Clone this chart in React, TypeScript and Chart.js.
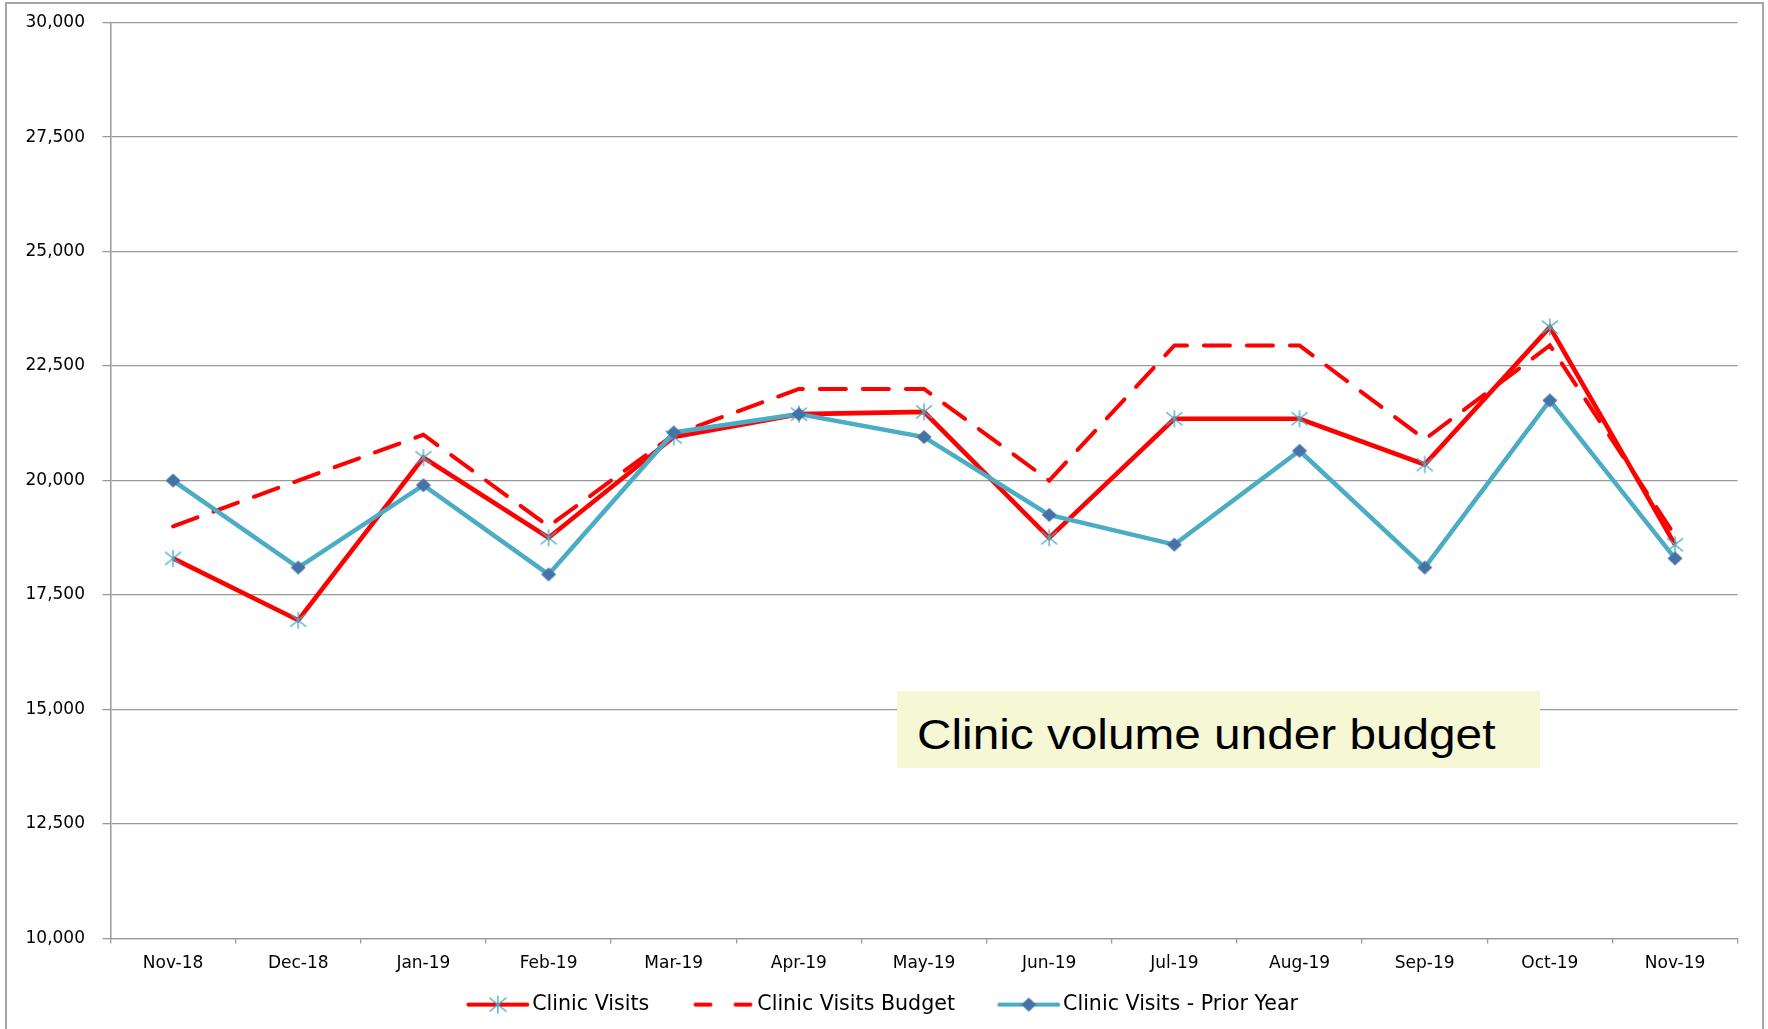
import React, { useEffect, useRef } from "react";
import { Chart, registerables } from "chart.js";

Chart.register(...registerables);

const categories = [
  "Nov-18", "Dec-18", "Jan-19", "Feb-19", "Mar-19", "Apr-19", "May-19",
  "Jun-19", "Jul-19", "Aug-19", "Sep-19", "Oct-19", "Nov-19",
];
const clinicVisits = [18300, 16950, 20500, 18750, 20950, 21450, 21500, 18750, 21350, 21350, 20350, 23350, 18600];
const clinicVisitsBudget = [19000, 20000, 21000, 19000, 21000, 22000, 22000, 20000, 22950, 22950, 20900, 22950, 18800];
const clinicVisitsPriorYear = [20000, 18100, 19900, 17950, 21050, 21450, 20950, 19250, 18600, 20650, 18100, 21750, 18300];
const seriesNames = ["Clinic Visits", "Clinic Visits Budget", "Clinic Visits - Prior Year"];
const yMin = 10000;
const yMax = 30000;
const yStep = 2500;
const annotationText = "Clinic volume under budget";

const RED = "#FF0000";
const TEAL = "#4BACC6";
const DIAMOND = "#4673A7";
const GRID = "#999999";

function drawAsterisk(ctx: CanvasRenderingContext2D, cx: number, cy: number) {
  ctx.save();
  ctx.strokeStyle = TEAL;
  ctx.lineWidth = 1.4;
  ctx.beginPath();
  ctx.moveTo(cx - 8, cy - 6.5);
  ctx.lineTo(cx + 8, cy + 6.5);
  ctx.moveTo(cx - 8, cy + 6.5);
  ctx.lineTo(cx + 8, cy - 6.5);
  ctx.moveTo(cx, cy - 8.5);
  ctx.lineTo(cx, cy + 8.5);
  ctx.stroke();
  ctx.restore();
}

function drawDiamond(ctx: CanvasRenderingContext2D, cx: number, cy: number) {
  ctx.save();
  ctx.fillStyle = DIAMOND;
  ctx.beginPath();
  ctx.moveTo(cx, cy - 7);
  ctx.lineTo(cx + 7.5, cy);
  ctx.lineTo(cx, cy + 7);
  ctx.lineTo(cx - 7.5, cy);
  ctx.closePath();
  ctx.fill();
  ctx.restore();
}

function makeMarker(kind: "asterisk" | "diamond"): HTMLCanvasElement {
  const c = document.createElement("canvas");
  c.width = 20;
  c.height = 20;
  const ctx = c.getContext("2d")!;
  if (kind === "asterisk") drawAsterisk(ctx, 10, 10);
  else drawDiamond(ctx, 10, 10);
  return c;
}

function makeLegendIcon(kind: number): HTMLCanvasElement {
  const c = document.createElement("canvas");
  c.width = 72;
  c.height = 22;
  const ctx = c.getContext("2d")!;
  const x0 = 9.4;
  const x1 = 68.4;
  const y = 11;
  const mid = (x0 + x1) / 2;
  ctx.lineWidth = 4;
  if (kind === 0) {
    ctx.strokeStyle = RED;
    ctx.lineCap = "round";
    ctx.beginPath();
    ctx.moveTo(x0, y);
    ctx.lineTo(x1, y);
    ctx.stroke();
    drawAsterisk(ctx, mid, y);
  } else if (kind === 1) {
    ctx.strokeStyle = RED;
    ctx.lineCap = "round";
    ctx.beginPath();
    ctx.moveTo(x0 + 2, y);
    ctx.lineTo(x0 + 17, y);
    ctx.moveTo(x1 - 17, y);
    ctx.lineTo(x1 - 2, y);
    ctx.stroke();
  } else {
    ctx.strokeStyle = TEAL;
    ctx.lineCap = "round";
    ctx.beginPath();
    ctx.moveTo(x0, y);
    ctx.lineTo(x1, y);
    ctx.stroke();
    drawDiamond(ctx, mid, y);
  }
  return c;
}

const legendShift = {
  id: "legendShift",
  afterLayout(chart: any) {
    const lg = chart.legend;
    if (!lg) return;
    const dx = 14.3;
    const dy = -32.2;
    lg.left += dx;
    lg.right += dx;
    lg.top += dy;
  },
};

export default function App() {
  const canvasRef = useRef<HTMLCanvasElement | null>(null);

  useEffect(() => {
    if (!canvasRef.current) return;
    Chart.defaults.font.family = "'DejaVu Sans', sans-serif";
    const asterisk = makeMarker("asterisk");
    const diamond = makeMarker("diamond");
    const legendIcons = [makeLegendIcon(0), makeLegendIcon(1), makeLegendIcon(2)];
    const tickFont = { family: "'DejaVu Sans', sans-serif", size: 17 };

    const chart = new Chart(canvasRef.current, {
      type: "line",
      plugins: [legendShift],
      data: {
        labels: categories,
        datasets: [
          {
            label: seriesNames[0],
            data: clinicVisits,
            borderColor: RED,
            backgroundColor: RED,
            borderWidth: 4.6,
            pointStyle: asterisk as any,
            pointRadius: 9,
            pointHoverRadius: 9,
            tension: 0,
            order: 1,
          },
          {
            label: seriesNames[1],
            data: clinicVisitsBudget,
            borderColor: RED,
            backgroundColor: RED,
            borderWidth: 4,
            borderDash: [26, 17],
            borderCapStyle: "round",
            pointRadius: 0,
            pointHoverRadius: 0,
            tension: 0,
            order: 2,
          },
          {
            label: seriesNames[2],
            data: clinicVisitsPriorYear,
            borderColor: TEAL,
            backgroundColor: TEAL,
            borderWidth: 4.5,
            pointStyle: diamond as any,
            pointRadius: 8,
            pointHoverRadius: 8,
            tension: 0,
            order: 0,
          },
        ],
      },
      options: {
        responsive: false,
        animation: false,
        events: [],
        layout: { padding: { left: 0, right: 30.4, top: 22.6, bottom: 0 } },
        plugins: {
          tooltip: { enabled: false },
          legend: {
            position: "bottom",
            maxHeight: 46.5,
            labels: {
              usePointStyle: true,
              pointStyleWidth: 53.75,
              padding: 44,
              color: "#000000",
              font: { family: "'DejaVu Sans', sans-serif", size: 20.6 },
              sort: (a: any, b: any) => a.datasetIndex - b.datasetIndex,
              generateLabels: (ch: any) => {
                const items = (Chart.defaults.plugins.legend.labels as any).generateLabels(ch);
                return items.map((it: any) => ({
                  ...it,
                  pointStyle: legendIcons[it.datasetIndex],
                  lineWidth: 0,
                  lineDash: [],
                  strokeStyle: "rgba(0,0,0,0)",
                  fillStyle: "rgba(0,0,0,0)",
                }));
              },
            },
          } as any,
        },
        scales: {
          x: {
            offset: true,
            grid: {
              drawOnChartArea: false,
              offset: true,
              tickLength: 5,
              color: GRID,
              lineWidth: 1.3,
            },
            border: { color: GRID, width: 1.3 },
            ticks: {
              font: tickFont,
              color: "#000000",
              padding: 10,
              maxRotation: 0,
              autoSkip: false,
            },
            afterFit: (s: any) => {
              s.height = 44;
            },
          },
          y: {
            min: yMin,
            max: yMax,
            grid: { color: GRID, lineWidth: 1.3, tickLength: 8 },
            border: { color: GRID, width: 1.5 },
            ticks: {
              stepSize: yStep,
              font: tickFont,
              color: "#000000",
              padding: 17.5,
              callback: (v: any) => Number(v).toLocaleString("en-US"),
            },
            afterFit: (s: any) => {
              s.width = 110.5;
              s.paddingTop = 10;
              s.paddingBottom = 10;
            },
          },
        },
      },
    });
    return () => chart.destroy();
  }, []);

  return (
    <div
      style={{
        position: "fixed",
        left: 0,
        top: 0,
        width: 1768,
        height: 1029,
        overflow: "hidden",
        background: "#ffffff",
      }}
    >
      <canvas
        ref={canvasRef}
        width={1768}
        height={1029}
        style={{ position: "absolute", left: 0, top: 0, width: 1768, height: 1029 }}
      />
      <div
        style={{
          position: "absolute",
          left: 5,
          top: 2,
          width: 1755,
          height: 1100,
          border: "2px solid #a6a6a6",
          pointerEvents: "none",
        }}
      />
      <div
        style={{
          position: "absolute",
          left: 897.3,
          top: 691,
          width: 642.7,
          height: 77.3,
          background: "#F5F7D5",
        }}
      >
        <span
          style={{
            position: "absolute",
            left: 20,
            top: 21.5,
            fontFamily: "'Liberation Sans', Arial, sans-serif",
            fontSize: 43,
            lineHeight: "43px",
            whiteSpace: "nowrap",
            color: "#000000",
            transform: "scaleX(1.11)",
            transformOrigin: "left top",
          }}
        >
          {annotationText}
        </span>
      </div>
    </div>
  );
}
